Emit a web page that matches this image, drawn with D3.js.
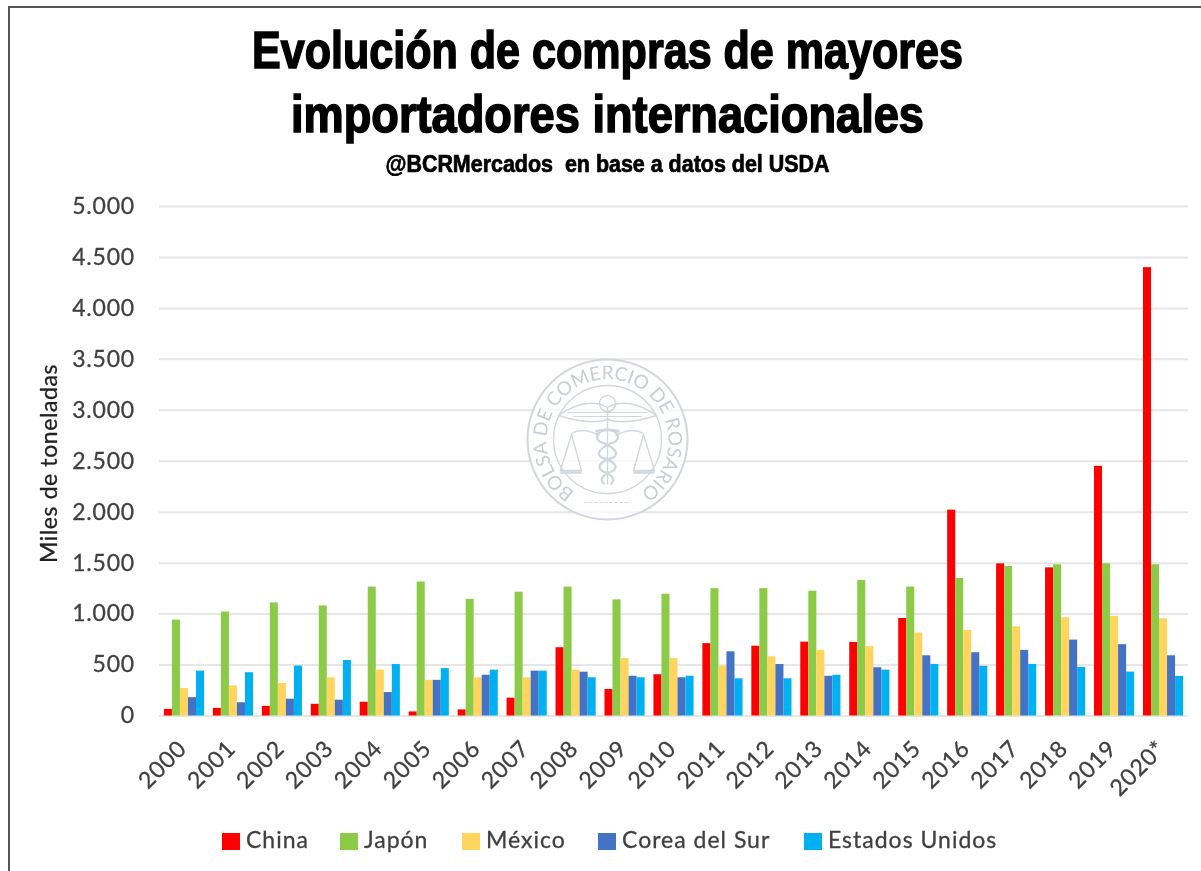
<!DOCTYPE html>
<html>
<head>
<meta charset="utf-8">
<script src="https://cdnjs.cloudflare.com/ajax/libs/d3/7.8.5/d3.min.js"></script>
<style>
html, body { margin: 0; padding: 0; background: #fff; }
svg { display: block; filter: blur(0.6px); }
.axis text { font-family: Lato, "Open Sans", sans-serif; fill: #404040; stroke: #404040; stroke-width: 0.3px; letter-spacing: 0.8px; }
</style>
</head>
<body>
<div id="chart"></div>
<script>
// values (miles de toneladas)
var years = ["2000","2001","2002","2003","2004","2005","2006","2007","2008","2009","2010","2011","2012","2013","2014","2015","2016","2017","2018","2019","2020*"];
var china = [65,75,95,115,135,40,60,175,670,260,405,710,685,725,722,957,2020,1493,1454,2450,4400];
var japon = [940,1020,1110,1080,1265,1315,1145,1215,1265,1140,1195,1250,1250,1225,1330,1265,1350,1467,1484,1493,1484];
var mexico = [270,295,320,375,450,350,375,375,450,565,565,490,580,645,683,814,840,876,964,977,954];
var corea = [180,130,165,155,230,350,400,440,430,390,375,630,505,390,474,591,621,644,745,700,591];
var eeuu = [440,425,490,545,505,465,450,440,375,375,390,365,365,400,450,506,487,506,477,431,389];
var yTicks = [0,500,1000,1500,2000,2500,3000,3500,4000,4500,5000];
var seriesNames = ["China","Japón","México","Corea del Sur","Estados Unidos"];
var seriesValues = [china, japon, mexico, corea, eeuu];
var seriesColors = ["#ff0000","#8ccb48","#ffd55f","#4472c4","#00b0f0"];
var legendX = [222,340,462,598,804];

var svg = d3.select("#chart").append("svg")
	.attr("width", 1201)
	.attr("height", 871);

// picture frame
svg.append("path")
	.attr("d", "M9,871V7H1201")
	.attr("fill", "none")
	.attr("stroke", "#555")
	.attr("stroke-width", 2);

var x0 = d3.scaleBand().domain(years).range([159, 1188]).paddingInner(0.18).paddingOuter(0.1);
var x1 = d3.scaleBand().domain(seriesNames).range([0, x0.bandwidth()]);
var y = d3.scaleLinear().domain([0, 5000]).range([715.5, 206]);

var locale = d3.formatLocale({ decimal: ",", thousands: ".", grouping: [3], currency: ["$", ""] });

// y axis with the gridlines
var yAxis = svg.append("g")
	.attr("class", "axis")
	.attr("transform", "translate(159,0)")
	.call(d3.axisLeft(y).tickValues(yTicks).tickSize(-1029).tickPadding(24).tickFormat(locale.format(",d")));
yAxis.select(".domain").remove();
yAxis.selectAll("line").attr("stroke", "#e6e6e6").attr("stroke-width", 2);
yAxis.selectAll("text").attr("font-size", 23);

// seal behind the bars
var seal = svg.append("g")
	.attr("transform", "translate(607.5,439.5)")
	.attr("fill", "none")
	.attr("stroke", "#d2d6de")
	.attr("stroke-width", 1.4);
seal.append("circle").attr("r", 80).attr("fill", "#fff").attr("fill-opacity", 0.7).attr("stroke-width", 2);
seal.append("circle").attr("r", 54);
seal.append("path").attr("id", "sealArc").attr("d", "M-28,55A61,61 0 1 1 28,55").attr("stroke", "none");
seal.append("text")
	.attr("fill", "#c8cdd7")
	.attr("stroke", "none")
	.attr("font-family", "Lato, sans-serif")
	.attr("font-size", 19)
	.append("textPath")
	.attr("href", "#sealArc")
	.attr("startOffset", "50%")
	.attr("text-anchor", "middle")
	.text("BOLSA DE COMERCIO DE ROSARIO");
// wings, staff, snakes, scales
seal.append("path").attr("d", "M-49,-24C-32,-36 -14,-40 0,-32C14,-40 32,-36 49,-24C30,-18 12,-16 0,-20C-12,-16 -30,-18 -49,-24Z");
seal.append("path").attr("d", "M-40,-27H40M-34,-23H34").attr("stroke-width", 1);
seal.append("path").attr("d", "M0,-32V45M-8,-36A8,8 0 1 1 8,-36A8,8 0 1 1 -8,-36");
seal.append("path").attr("d", "M-12,-8C10,-14 14,-2 8,2C-8,8 -12,14 -6,18C8,22 12,28 4,32C-6,36 -8,40 -3,45").attr("stroke-width", 2.4);
seal.append("path").attr("d", "M12,-8C-10,-14 -14,-2 -8,2C8,8 12,14 6,18C-8,22 -12,28 -4,32C6,36 8,40 3,45").attr("stroke-width", 2.4);
seal.append("path").attr("d", "M-36,-6C-26,-12 -16,-8 -8,-4M36,-6C26,-12 16,-8 8,-4M-36,-5L-47,31H-26ZM36,-5L26,31H47Z");
seal.append("path").attr("d", "M-47,33H-26M26,33H47").attr("stroke-width", 2.4);
seal.append("path").attr("d", "M-23,63H23").attr("stroke-width", 1).attr("stroke-dasharray", "3,2");

var groups = svg.selectAll(".year")
	.data(years)
	.enter()
	.append("g")
	.attr("class", "year")
	.attr("transform", function(d) { return "translate(" + x0(d) + ",0)"; });

groups.selectAll("rect")
	.data(function(d, i) {
		return seriesNames.map(function(name, s) { return { name: name, value: seriesValues[s][i], color: seriesColors[s] }; });
	})
	.enter()
	.append("rect")
	.attr("x", function(d) { return x1(d.name); })
	.attr("y", function(d) { return y(d.value); })
	.attr("width", x1.bandwidth())
	.attr("height", function(d) { return y(0) - y(d.value); })
	.attr("fill", function(d) { return d.color; });

// x axis, labels at 45 degrees
var xAxis = svg.append("g")
	.attr("class", "axis")
	.attr("transform", "translate(0,716)")
	.call(d3.axisBottom(x0).tickSize(0).tickPadding(0));
xAxis.select(".domain").remove();
xAxis.selectAll("text")
	.attr("font-size", 23)
	.attr("text-anchor", "end")
	.attr("dy", 0)
	.attr("transform", "translate(4,34) rotate(-45)");

svg.append("text")
	.attr("transform", "translate(57,463.5) rotate(-90)")
	.attr("text-anchor", "middle")
	.attr("font-family", "Lato, sans-serif")
	.attr("font-size", 23)
	.attr("letter-spacing", 0.6)
	.attr("fill", "#222")
	.attr("stroke", "#222")
	.attr("stroke-width", 0.3)
	.text("Miles de toneladas");

// titles
var titles = [
	{ text: "Evolución de compras de mayores", y: 68, size: 52, len: 711, sw: 1.6 },
	{ text: "importadores internacionales", y: 132, size: 52, len: 633, sw: 1.6 },
	{ text: "@BCRMercados  en base a datos del USDA", y: 172, size: 23, len: 444, sw: 0.7 }
];
svg.selectAll(".title")
	.data(titles)
	.enter()
	.append("text")
	.attr("class", "title")
	.attr("xml:space", "preserve")
	.attr("x", 607.5)
	.attr("y", function(d) { return d.y; })
	.attr("text-anchor", "middle")
	.attr("font-family", "'Liberation Sans Narrow', 'Liberation Sans', sans-serif")
	.attr("font-weight", "bold")
	.attr("font-size", function(d) { return d.size; })
	.attr("stroke", "#000")
	.attr("stroke-width", function(d) { return d.sw; })
	.attr("textLength", function(d) { return d.len; })
	.attr("lengthAdjust", "spacingAndGlyphs")
	.text(function(d) { return d.text; });

// legend
var legend = svg.selectAll(".legend")
	.data(seriesNames)
	.enter()
	.append("g")
	.attr("class", "legend")
	.attr("transform", function(d, i) { return "translate(" + legendX[i] + ",841)"; });
legend.append("rect")
	.attr("y", -8)
	.attr("width", 18)
	.attr("height", 17)
	.attr("fill", function(d, i) { return seriesColors[i]; });
legend.append("text")
	.attr("x", 24)
	.attr("y", 7)
	.attr("font-family", "Lato, sans-serif")
	.attr("font-size", 23)
	.attr("letter-spacing", 1)
	.attr("fill", "#404040")
	.attr("stroke", "#404040")
	.attr("stroke-width", 0.3)
	.text(function(d) { return d; });
</script>
</body>
</html>
